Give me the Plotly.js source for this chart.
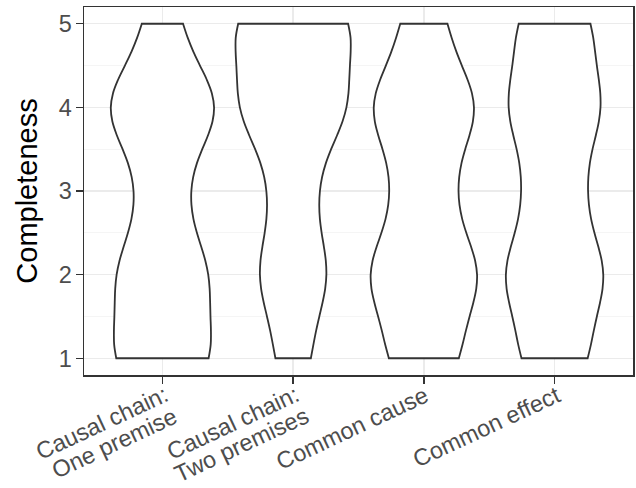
<!DOCTYPE html>
<html>
<head>
<meta charset="utf-8">
<script src="https://cdn.plot.ly/plotly-3.0.1.min.js"></script>
<style>html,body{margin:0;padding:0;background:#fff;}#chart{width:636px;height:488px;}</style>
</head>
<body>
<div id="chart"></div>
<script>
// Rating scale values (Completeness 1-5)
const ratings = [1, 2, 3, 4, 5];
// Conditions (x categories)
const categories = ["Causal chain: One premise", "Causal chain: Two premises", "Common cause", "Common effect"];
// Tick label lines for each category
const tickLabelLines = [["Causal chain:", "One premise"], ["Causal chain:", "Two premises"], ["Common cause"], ["Common effect"]];
// Estimated response counts per rating, per condition
const countsOnePremise  = [26, 24, 11, 30, 9];
const countsTwoPremises = [9, 19, 11, 29, 32];
const countsCommonCause = [18, 29, 14, 28, 11];
const countsCommonEffect = [17, 26, 14, 24, 19];

const allCounts = [countsOnePremise, countsTwoPremises, countsCommonCause, countsCommonEffect];
// Maximum violin widths (category units) (area-scaled violins)
const violinWidths = [0.79, 0.88, 0.814, 0.745];

function expand(counts) {
  const out = [];
  counts.forEach((c, i) => { for (let k = 0; k < c; k++) out.push(ratings[i]); });
  return out;
}

const traces = categories.map((cat, i) => {
  const y = expand(allCounts[i]);
  return {
    type: 'violin',
    x: y.map(() => cat),
    y: y,
    name: cat,
    spanmode: 'hard',
    bandwidth: 0.5,
    scalegroup: cat,
    scalemode: 'width',
    width: violinWidths[i],
    points: false,
    box: {visible: false},
    meanline: {visible: false},
    fillcolor: '#ffffff',
    line: {color: '#333333', width: 1.8},
    hoverinfo: 'skip',
    showlegend: false
  };
});

// Rotated x tick labels (one annotation per text line)
const ANG = 25 * Math.PI / 180;
const LINE = 23;
const annotations = [];
tickLabelLines.forEach((lines, i) => {
  lines.forEach((txt, k) => {
    annotations.push({
      text: txt,
      x: categories[i], xref: 'x',
      y: 0, yref: 'paper',
      xanchor: 'right', yanchor: 'top',
      textangle: -25,
      showarrow: false,
      font: {size: 23.5, color: '#4D4D4D', family: 'Liberation Sans, Arial, sans-serif'},
      xshift: 12 + k * LINE * Math.sin(ANG),
      yshift: -4 - k * LINE * Math.cos(ANG)
    });
  });
});

const layout = {
  width: 636, height: 488,
  margin: {l: 84, r: 3, t: 7, b: 113},
  paper_bgcolor: '#ffffff',
  plot_bgcolor: '#ffffff',
  violinmode: 'overlay',
  font: {family: 'Liberation Sans, Arial, sans-serif', color: '#4D4D4D'},
  annotations: annotations,
  xaxis: {
    type: 'category',
    categoryorder: 'array',
    categoryarray: categories,
    range: [-0.6, 3.6],
    showgrid: true, gridcolor: '#EBEBEB', gridwidth: 1.5,
    showline: true, mirror: true, linecolor: '#333333', linewidth: 1.5,
    ticks: 'outside', ticklen: 7, tickwidth: 1.5, tickcolor: '#333333',
    showticklabels: false,
    zeroline: false
  },
  yaxis: {
    range: [0.8, 5.2],
    tickvals: ratings,
    ticktext: ratings.map(String),
    showgrid: true, gridcolor: '#EBEBEB', gridwidth: 1.5,
    minor: {tickvals: [1.5, 2.5, 3.5, 4.5], showgrid: true, gridcolor: '#F2F2F2', gridwidth: 0.8, ticks: ''},
    showline: true, mirror: true, linecolor: '#333333', linewidth: 1.5,
    ticks: 'outside', ticklen: 7, tickwidth: 1.5, tickcolor: '#333333',
    ticklabelstandoff: -1,
    tickfont: {size: 23.5, color: '#4D4D4D'},
    zeroline: false,
    title: {text: 'Completeness', font: {size: 29, color: '#000000'}, standoff: 12}
  }
};

Plotly.newPlot('chart', traces, layout, {displayModeBar: false, staticPlot: true});
</script>
</body>
</html>
